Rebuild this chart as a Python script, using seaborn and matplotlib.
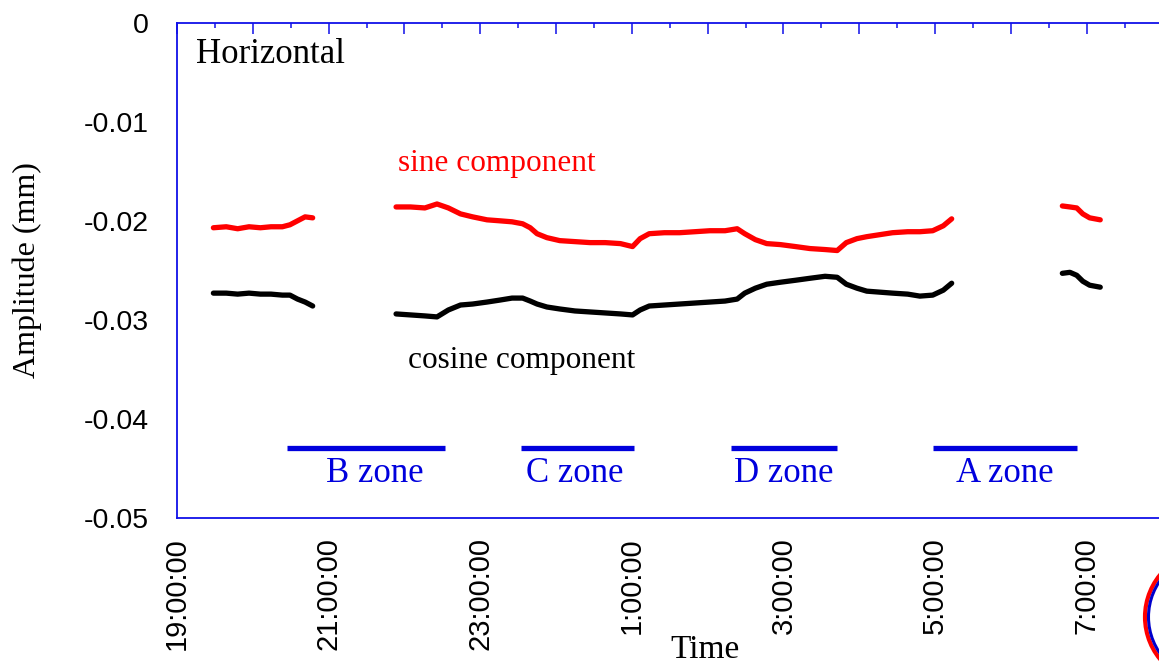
import numpy as np
import pandas as pd
import seaborn as sns
import matplotlib
matplotlib.use("Agg")
import matplotlib.pyplot as plt
from matplotlib.ticker import FixedLocator, MultipleLocator
from matplotlib.patches import Circle

# ---------------- data (hours after 19:00, amplitude in mm) ----------------
sine_t1 = [0.48, 0.65, 0.80, 0.95, 1.10, 1.24, 1.39, 1.49, 1.59, 1.69, 1.79]
sine_v1 = [-0.0207, -0.0206, -0.0208, -0.0206, -0.0207, -0.0206, -0.0206,
           -0.0204, -0.0200, -0.0196, -0.0197]
cos_v1 = [-0.0273, -0.0273, -0.0274, -0.0273, -0.0274, -0.0274, -0.0275,
          -0.0275, -0.0279, -0.0282, -0.0286]

sine_t2 = [2.89, 3.08, 3.27, 3.43, 3.58, 3.74, 3.90, 4.09, 4.26, 4.42, 4.56,
           4.66, 4.75, 4.88, 5.05, 5.25, 5.45, 5.65, 5.85, 6.01, 6.11, 6.23,
           6.43, 6.63, 6.83, 7.03, 7.23, 7.39, 7.49, 7.63, 7.78, 7.96, 8.16,
           8.35, 8.55, 8.71, 8.83, 8.97, 9.10, 9.27, 9.44, 9.64, 9.80, 9.97,
           10.11, 10.22]
sine_v2 = [-0.0186, -0.0186, -0.0187, -0.0183, -0.0187, -0.0193, -0.0196,
           -0.0199, -0.0200, -0.0201, -0.0203, -0.0207, -0.0213, -0.0217,
           -0.0220, -0.0221, -0.0222, -0.0222, -0.0223, -0.0226, -0.0218,
           -0.0213, -0.0212, -0.0212, -0.0211, -0.0210, -0.0210, -0.0208,
           -0.0213, -0.0219, -0.0223, -0.0224, -0.0226, -0.0228, -0.0229,
           -0.0230, -0.0222, -0.0218, -0.0216, -0.0214, -0.0212, -0.0211,
           -0.0211, -0.0210, -0.0205, -0.0198]
cos_v2 = [-0.0294, -0.0295, -0.0296, -0.0297, -0.0290, -0.0285, -0.0284,
          -0.0282, -0.0280, -0.0278, -0.0278, -0.0281, -0.0284, -0.0287,
          -0.0289, -0.0291, -0.0292, -0.0293, -0.0294, -0.0295, -0.0290,
          -0.0286, -0.0285, -0.0284, -0.0283, -0.0282, -0.0281, -0.0279,
          -0.0273, -0.0268, -0.0264, -0.0262, -0.0260, -0.0258, -0.0256,
          -0.0257, -0.0264, -0.0268, -0.0271, -0.0272, -0.0273, -0.0274,
          -0.0276, -0.0275, -0.0270, -0.0263]

sine_t3 = [11.68, 11.78, 11.87, 11.95, 12.04, 12.18]
sine_v3 = [-0.0185, -0.0186, -0.0187, -0.0193, -0.0197, -0.0199]
cos_v3 = [-0.0253, -0.0252, -0.0255, -0.0261, -0.0265, -0.0267]

zone_names = ["B zone", "C zone", "D zone", "A zone"]
zone_start = [1.45, 4.54, 7.31, 9.97]
zone_end = [3.54, 6.03, 8.71, 11.87]
zone_level = -0.0429
zone_label_x = [2.61, 5.25, 8.01, 10.92]
zone_label_y = -0.0455

x_ticks = list(range(0, 14))
x_tick_labels = ["19:00:00", "", "21:00:00", "", "23:00:00", "", "1:00:00", "",
                 "3:00:00", "", "5:00:00", "", "7:00:00", ""]
y_ticks = [0, -0.01, -0.02, -0.03, -0.04, -0.05]
y_tick_labels = ["0", "-0.01", "-0.02", "-0.03", "-0.04", "-0.05"]

# ---------------- build table ----------------
rows = []
for seg, (t, s, c) in enumerate([(sine_t1, sine_v1, cos_v1),
                                 (sine_t2, sine_v2, cos_v2),
                                 (sine_t3, sine_v3, cos_v3)]):
    for ti, si, ci in zip(t, s, c):
        rows.append({"t": ti, "amp": si, "comp": "sine", "seg": seg})
        rows.append({"t": ti, "amp": ci, "comp": "cosine", "seg": seg})
df = pd.DataFrame(rows)

sns.set_theme(style="white")
plt.rcParams["axes.unicode_minus"] = False
plt.rcParams["text.color"] = "black"
plt.rcParams["xtick.labelcolor"] = "black"
plt.rcParams["ytick.labelcolor"] = "black"
plt.rcParams["axes.labelcolor"] = "black"
SANS = ["Liberation Sans", "DejaVu Sans"]
SERIF = ["Liberation Serif", "DejaVu Serif"]
BLUE = "#1010e8"

fig = plt.figure(figsize=(11.59, 6.68), dpi=100)
ax = fig.add_axes([177 / 1159, 150 / 668, 985.4 / 1159, 495.3 / 668])

sns.lineplot(data=df, x="t", y="amp", hue="comp", units="seg", estimator=None,
             palette={"sine": "#ff0000", "cosine": "#000000"},
             linewidth=3.8, legend=False, ax=ax, sort=True)

ax.hlines([zone_level] * len(zone_start), zone_start, zone_end,
          colors="#0000dd", linewidth=3.8)
for name, zx in zip(zone_names, zone_label_x):
    ax.text(zx, zone_label_y, name, color="#0000dd", fontsize=25,
            family=SERIF, ha="center", va="center")

ax.text(0.25, -0.0032, "Horizontal", fontsize=25, family=SERIF,
        color="black", ha="left", va="center")
ax.text(2.91, -0.0142, "sine component", fontsize=22.5, family=SERIF,
        color="#ff0000", ha="left", va="center")
ax.text(3.05, -0.0341, "cosine component", fontsize=22.5, family=SERIF,
        color="black", ha="left", va="center")

ax.set_xlim(0, 13)
ax.set_ylim(-0.05, 0)

ax.xaxis.set_major_locator(FixedLocator(x_ticks))
ax.set_xticklabels(x_tick_labels, rotation=90, fontsize=21, family=SANS,
                   color="black")
ax.xaxis.set_minor_locator(MultipleLocator(0.5))
ax.yaxis.set_major_locator(FixedLocator(y_ticks))
ax.set_yticklabels(y_tick_labels, fontsize=20.5, family=SANS, color="black")
ax.yaxis.set_minor_locator(MultipleLocator(0.005))

ax.tick_params(which="major", direction="in", length=8, width=1.1,
               color=BLUE, top=True, right=False)
ax.tick_params(which="minor", direction="in", length=3.8, width=1.1,
               color=BLUE, top=True, right=False)
ax.tick_params(axis="y", which="both", pad=20)
ax.tick_params(axis="x", which="both", pad=14)

for sp in ax.spines.values():
    sp.set_color(BLUE)
    sp.set_linewidth(1.3)
    sp.set_visible(True)

ax.set_ylabel("Amplitude (mm)", fontsize=23, family=SERIF, labelpad=30,
              color="black")
ax.set_xlabel("Time", fontsize=24, family=SERIF, color="black")
ax.xaxis.set_label_coords((705 - 177) / 985.4, -(650 - 518) / 495.3)
ax.xaxis.label.set_verticalalignment("center")

# partial logo at bottom-right corner
fig.patches.append(Circle((12.115, 0.51), 0.665, transform=fig.dpi_scale_trans,
                          fill=False, edgecolor="#ff0000", linewidth=3.0))
fig.patches.append(Circle((12.115, 0.51), 0.63, transform=fig.dpi_scale_trans,
                          fill=False, edgecolor="#0000cc", linewidth=2.2))

fig.savefig("out.png", dpi=100)
